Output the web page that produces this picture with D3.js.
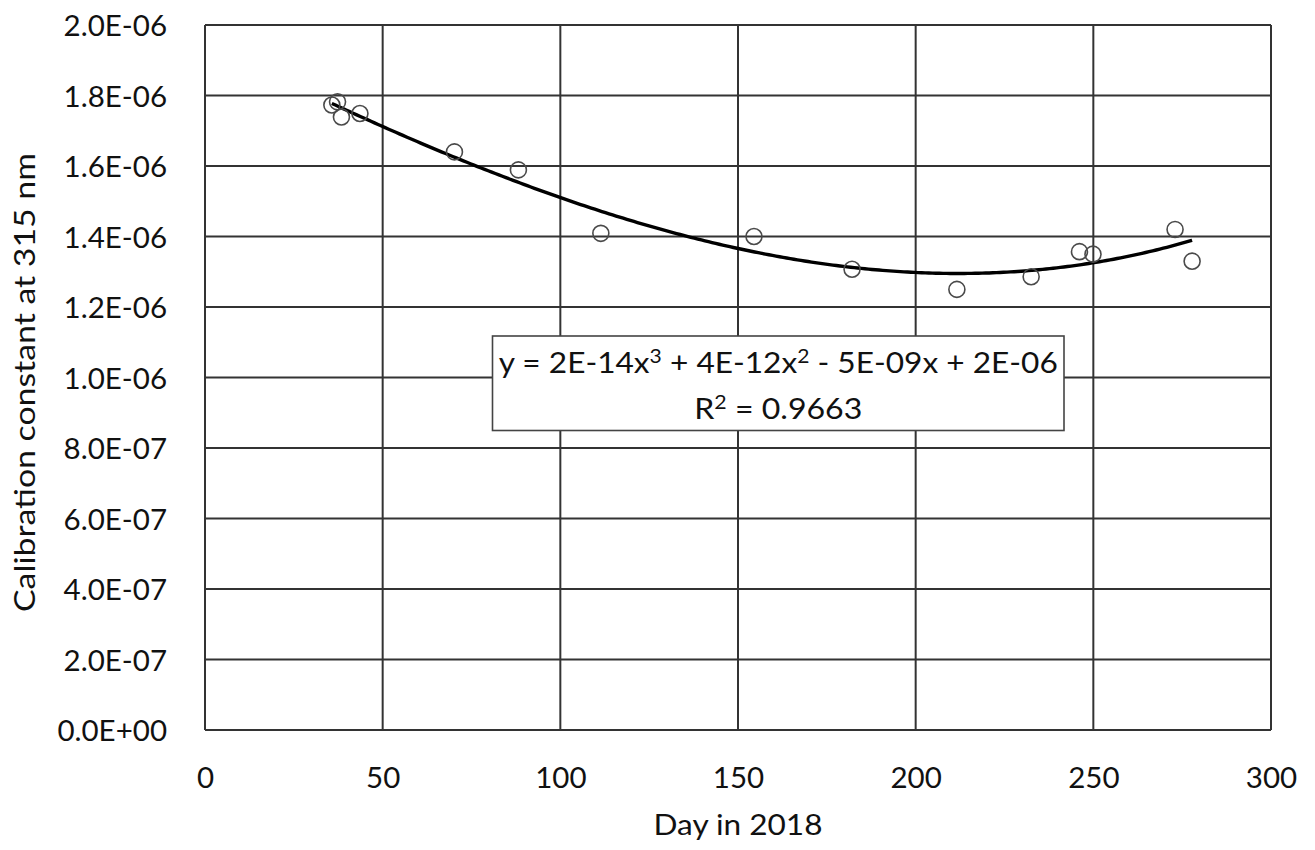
<!DOCTYPE html>
<html>
<head>
<meta charset="utf-8">
<script src="https://cdn.jsdelivr.net/npm/d3@7"></script>
<style>
  body { margin: 0; background: #fff; }
  svg { display: block; font-family: Lato, "Open Sans", sans-serif; }
</style>
</head>
<body>
<div id="chart"></div>
<script>
// measured calibration constants (day of year, value)
const days = [35.7, 37.3, 38.4, 43.6, 70.2, 88.2, 111.4, 154.5, 182.1, 211.6, 232.5, 246.1, 249.9, 273.0, 277.8]
const values = [1.773e-6, 1.782e-6, 1.739e-6, 1.749e-6, 1.640e-6, 1.589e-6, 1.409e-6, 1.400e-6,
  1.307e-6, 1.250e-6, 1.286e-6, 1.357e-6, 1.350e-6, 1.420e-6, 1.330e-6]
const xTicks = [0, 50, 100, 150, 200, 250, 300]
const yTicks = [0, 2e-7, 4e-7, 6e-7, 8e-7, 1e-6, 1.2e-6, 1.4e-6, 1.6e-6, 1.8e-6, 2e-6]
// equation pieces: [text, superscript]
const equationParts = [['y = 2E-14x', '3'], [' + 4E-12x', '2'], [' - 5E-09x + 2E-06', '']]
const r2Parts = [['R', '2'], [' = 0.9663', '']]

const width = 1315, height = 850
const margin = { top: 25, right: 44, bottom: 120, left: 205 }
const textColor = '#111'

const svg = d3.select('#chart').append('svg')
  .attr('width', width)
  .attr('height', height)

const x = d3.scaleLinear().domain([0, 300]).range([margin.left, width - margin.right])
const y = d3.scaleLinear().domain([0, 2e-6]).range([height - margin.bottom, margin.top])

//gridlines
svg.append('g')
  .selectAll('line')
  .data(xTicks)
  .join('line')
  .attr('x1', d => x(d)).attr('x2', d => x(d))
  .attr('y1', y(0)).attr('y2', y(2e-6))
  .attr('stroke', '#333').attr('stroke-width', 2)

svg.append('g')
  .selectAll('line')
  .data(yTicks)
  .join('line')
  .attr('x1', x(0)).attr('x2', x(300))
  .attr('y1', d => y(d)).attr('y2', d => y(d))
  .attr('stroke', '#333').attr('stroke-width', 2)

//axes (labels only, lines come from the grid)
const fmt = d => d === 0 ? '0.0E+00' : d3.format('.1e')(d).replace(/e([+-])(\d)$/, 'E$10$2').replace('e', 'E')

const xAxis = svg.append('g')
  .attr('transform', `translate(0,${y(0)})`)
  .call(d3.axisBottom(x).tickValues(xTicks).tickSize(0))
xAxis.select('.domain').remove()
xAxis.selectAll('text')
  .attr('y', 58).attr('dy', 0)
  .attr('font-size', 29.5).attr('fill', textColor).attr('font-family', 'Lato, "Open Sans", sans-serif')

const yAxis = svg.append('g')
  .attr('transform', `translate(${x(0)},0)`)
  .call(d3.axisLeft(y).tickValues(yTicks).tickFormat(fmt).tickSize(0))
yAxis.select('.domain').remove()
yAxis.selectAll('text')
  .attr('x', -38).attr('dy', '0.36em')
  .attr('font-size', 29.5).attr('fill', textColor).attr('font-family', 'Lato, "Open Sans", sans-serif')

//axis titles
svg.append('text')
  .attr('x', x(150)).attr('y', 835)
  .attr('text-anchor', 'middle')
  .attr('font-size', 29.5).attr('fill', textColor)
  .attr('textLength', 169).attr('lengthAdjust', 'spacingAndGlyphs')
  .text('Day in 2018')

svg.append('text')
  .attr('transform', `translate(35,${(y(0) + y(2e-6)) / 2 + 5}) rotate(-90)`)
  .attr('text-anchor', 'middle')
  .attr('font-size', 29.5).attr('fill', textColor)
  .attr('textLength', 459).attr('lengthAdjust', 'spacingAndGlyphs')
  .text('Calibration constant at 315 nm')

//cubic least squares trendline, like the spreadsheet fit
function polyFit(xs, ys, order) {
  const n = order + 1
  const A = Array.from({ length: n }, () => new Array(n + 1).fill(0))
  xs.forEach((xv, k) => {
    for (let i = 0; i < n; i++) {
      for (let j = 0; j < n; j++) A[i][j] += Math.pow(xv, i + j)
      A[i][n] += ys[k] * Math.pow(xv, i)
    }
  })
  for (let c = 0; c < n; c++) {
    let p = c
    for (let r = c + 1; r < n; r++) if (Math.abs(A[r][c]) > Math.abs(A[p][c])) p = r
    ;[A[c], A[p]] = [A[p], A[c]]
    for (let r = 0; r < n; r++) {
      if (r === c) continue
      const f = A[r][c] / A[c][c]
      for (let k = c; k <= n; k++) A[r][k] -= f * A[c][k]
    }
  }
  return A.map((row, i) => row[n] / row[i])
}
const coef = polyFit(days, values, 3)
const fitAt = t => coef.reduce((s, c, i) => s + c * Math.pow(t, i), 0)
const fitLine = d3.range(d3.min(days), d3.max(days), 1).concat([d3.max(days)])

svg.append('path')
  .datum(fitLine)
  .attr('fill', 'none')
  .attr('stroke', '#000')
  .attr('stroke-width', 3.4)
  .attr('d', d3.line().x(d => x(d)).y(d => y(fitAt(d))))

//data points
svg.append('g')
  .selectAll('circle')
  .data(days.map((d, i) => ({ day: d, value: values[i] })))
  .join('circle')
  .attr('cx', d => x(d.day))
  .attr('cy', d => y(d.value))
  .attr('r', 8)
  .attr('fill', 'none')
  .attr('stroke', '#4a4a4a')
  .attr('stroke-width', 1.6)

//equation box
const box = { x0: 492.5, y0: 336, x1: 1064, y1: 430.5 }
svg.append('rect')
  .attr('x', box.x0).attr('y', box.y0)
  .attr('width', box.x1 - box.x0).attr('height', box.y1 - box.y0)
  .attr('fill', '#fff').attr('stroke', '#444').attr('stroke-width', 1.6)

function writeParts(parts, baseline, len) {
  const t = svg.append('text')
    .attr('x', (box.x0 + box.x1) / 2).attr('y', baseline)
    .attr('text-anchor', 'middle')
    .attr('font-size', 28.5).attr('fill', textColor)
    .attr('textLength', len).attr('lengthAdjust', 'spacingAndGlyphs')
  const rise = 10
  let shift = 0
  parts.forEach(([main, sup]) => {
    t.append('tspan').attr('dy', -shift).text(main)
    shift = 0
    if (sup) {
      t.append('tspan').attr('dy', -rise).attr('font-size', 19).text(sup)
      shift = -rise
    }
  })
  return t
}
writeParts(equationParts, 373, 559)
writeParts(r2Parts, 419, 168)
</script>
</body>
</html>
